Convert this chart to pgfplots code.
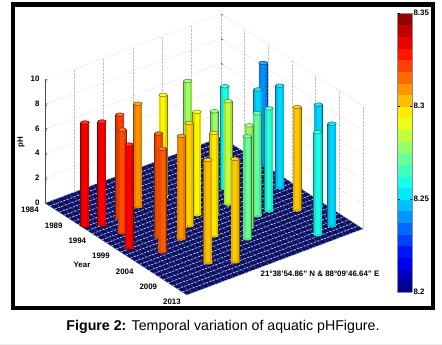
\documentclass[border=0pt]{standalone}
\usepackage{fontspec}
\setmainfont{Liberation Sans}
\usepackage{pgfplots}
\pgfplotsset{compat=1.18}
\definecolor{floorblue}{RGB}{12,16,100}
\definecolor{floorline}{RGB}{205,212,235}
\newcommand{\lab}{\bfseries\fontsize{7.9}{9}\selectfont}
\newcommand{\drawbar}[4]{%
  \addplot3[color of colormap=#4,/utils/exec={\colorlet{bc}{.}},line width=9pt,draw=bc!50!black,line cap=butt,
    mark=*,mark indices={1},mark size=4.5pt,mark options={yscale=.5,fill=bc!50!black,draw=none,line width=0pt},forget plot] coordinates {(#1,#2,0) (#1,#2,#3)};
  \addplot3[color of colormap=#4,/utils/exec={\colorlet{bc}{.}},line width=7.8pt,draw=bc!88!black,line cap=butt,xshift=.1pt,
    mark=*,mark indices={1},mark size=3.9pt,mark options={yscale=.5,fill=bc!88!black,draw=none,line width=0pt},forget plot] coordinates {(#1,#2,0) (#1,#2,#3)};
  \addplot3[color of colormap=#4,/utils/exec={\colorlet{bc}{.}},line width=4pt,draw=bc,line cap=butt,xshift=.3pt,forget plot] coordinates {(#1,#2,0) (#1,#2,#3)};
  \addplot3[color of colormap=#4,/utils/exec={\colorlet{bc}{.}},only marks,mark=*,mark size=4.3pt,mark options={yscale=.42,fill=bc!80!white,draw=bc!50!black,line width=.5pt},forget plot] coordinates {(#1,#2,#3)};
}
\newcommand{\bbar}[3]{\pgfmathparse{(#3-8.2)/0.15*1000}\edef\tmpbar{\noexpand\drawbar{#1}{#2}{#3}{\pgfmathresult}}\tmpbar}
\begin{document}
\begin{tikzpicture}[x=1pt,y=1pt]
\useasboundingbox (0,0) rectangle (442,345);
\fill[white] (0,0) rectangle (442,345);
\fill[black!7] (0,0) rectangle (442,1);
\draw[line width=4.4pt] (13,345-4.5) rectangle (433,345-308);
\begin{axis}[
  at={(45pt,142pt)},anchor=origin,
  x={(4.733pt,-3.067pt)},y={(29.33pt,11pt)},z={(0pt,12.3pt)},
  xmin=0,xmax=30,ymin=0,ymax=6,zmin=0,zmax=10,
  clip=false,clip mode=individual,colormap/jet,
  xtick={0,5,...,30},xticklabels={1984,1989,1994,1999,2004,2009,2013},
  ytick={1,2,3,4,5},yticklabels={},
  ztick={0,2,...,10},ztick pos=left,
  grid=major,grid style={densely dotted,black!25,line width=.35pt},
  axis line style={draw=none},
  tick style={black,line width=.3pt},
  major tick length=2.5pt,
  tick label style={font=\lab,/pgf/number format/assume math mode=true},
  xtick style={draw=none},ytick style={draw=none},
  xticklabel style={anchor=center,xshift=-15pt,yshift=-7pt},
  zticklabel style={xshift=-2pt},
]
\addplot3[draw=none,fill=floorblue,forget plot] coordinates {(0,0,0) (30,0,0) (30,6,0) (0,6,0) (0,0,0)};
\pgfplotsinvokeforeach{0,0.2,...,6}{\addplot3[floorline!35!floorblue,line width=.3pt,forget plot] coordinates {(0,#1,0) (30,#1,0)};}
\pgfplotsinvokeforeach{0,1,...,30}{\addplot3[floorline,line width=.65pt,dash pattern=on 2.4pt off 1.2pt,forget plot] coordinates {(#1,0,0) (#1,6,0)};}
\addplot3[black!70,line width=.5pt,forget plot] coordinates {(0,0,0) (0,0,10)};
\bbar{8.9}{6.0}{8.24}
\bbar{6.9}{3.75}{8.28}
\bbar{14.9}{5.6}{8.25}
\bbar{10.8}{4.39}{8.26}
\bbar{14.0}{5.0}{8.25}
\bbar{7.9}{2.75}{8.295}
\bbar{14.2}{3.95}{8.285}
\bbar{21.8}{5.8}{8.25}
\bbar{7.8}{1.91}{8.31}
\bbar{20.8}{5.24}{8.302}
\bbar{18.8}{4.6}{8.262}
\bbar{15.2}{3.32}{8.278}
\bbar{14.0}{2.92}{8.295}
\bbar{18.9}{4.18}{8.27}
\bbar{8.7}{1.15}{8.322}
\bbar{8.75}{0.53}{8.332}
\bbar{7.64}{0.13}{8.332}
\bbar{15.7}{2.38}{8.30}
\bbar{26.8}{5.46}{8.25}
\bbar{20.8}{3.6}{8.28}
\bbar{11.95}{0.7}{8.32}
\bbar{27.5}{4.86}{8.26}
\bbar{19.7}{2.58}{8.297}
\bbar{15.6}{1.36}{8.32}
\bbar{17.8}{1.77}{8.31}
\bbar{22.9}{3.2}{8.272}
\bbar{15.6}{0.35}{8.332}
\bbar{19.0}{0.93}{8.318}
\bbar{26.7}{2.17}{8.302}
\bbar{24.8}{1.55}{8.303}
\end{axis}
\begin{axis}[
  at={(397pt,53pt)},anchor=south west,scale only axis,width=15pt,height=279pt,
  hide axis,xmin=0,xmax=1,ymin=0,ymax=1,colormap/jet,
  point meta min=8.2,point meta max=8.35,
  colorbar sampled,
  colorbar style={samples=25,at={(0,0)},anchor=south west,width=15pt,height=279pt,
    ytick={8.2,8.25,8.3,8.35},
    yticklabels={8.2,8.25,8.3,8.35},
    tick style={black,line width=.3pt},major tick length=2.5pt,
    axis line style={black!45,line width=.4pt},
    yticklabel style={font=\lab,xshift=-2pt},
  },
]
\addplot[draw=none,forget plot] coordinates {(0,0)(1,1)};
\end{axis}
\node[rotate=90,font=\lab] at (21,345-142) {pH};
\node[font=\lab] at (82,345-265) {Year};
\node[font=\lab] at (320,345-274) {21°38'54.86'' N \& 88°09'46.64'' E};
\node[font=\fontsize{14.2}{16}\selectfont] at (223,345-327) {\textbf{Figure 2:} Temporal variation of aquatic pHFigure.};
\end{tikzpicture}
\end{document}
